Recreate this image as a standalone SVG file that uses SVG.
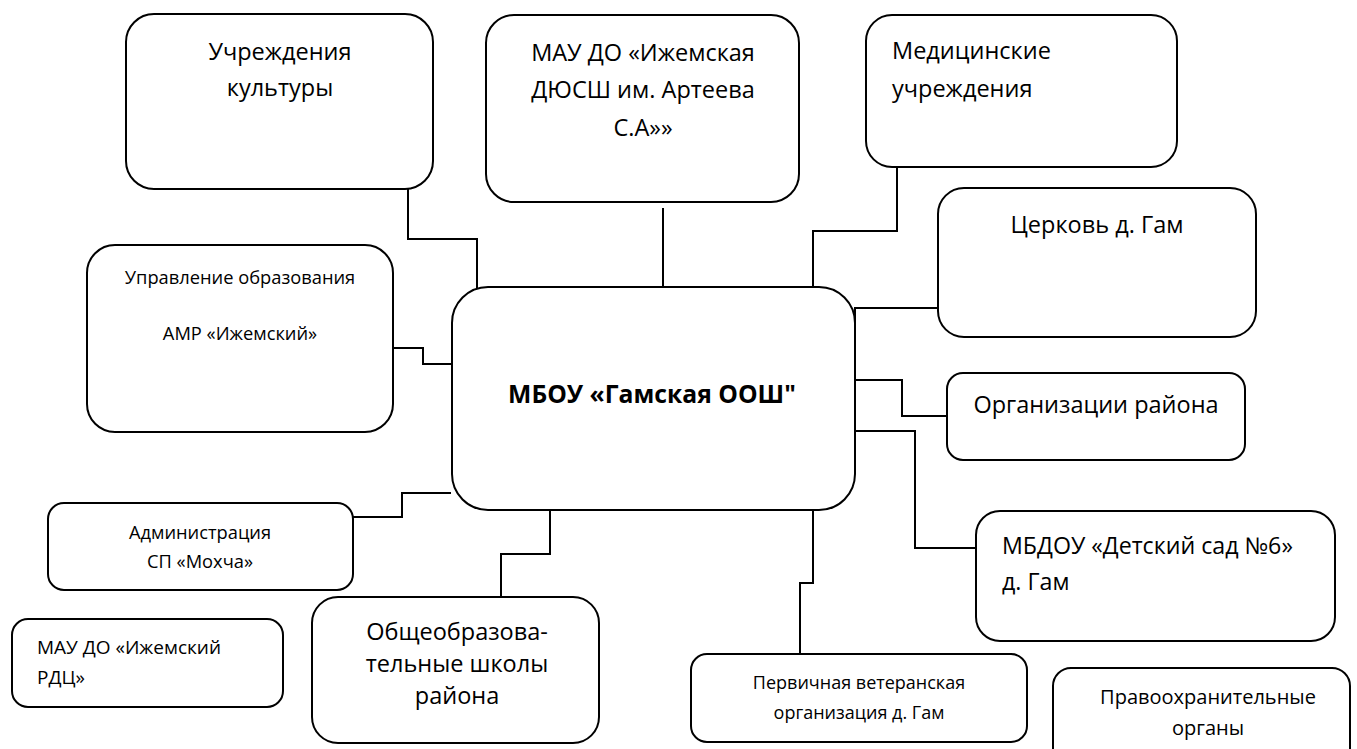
<svg xmlns="http://www.w3.org/2000/svg" width="1357" height="749" viewBox="0 0 1357 749">
<style>
.box{fill:#fff;stroke:#000;stroke-width:2}
.con{fill:none;stroke:#000;stroke-width:2}
text{font-family:"Open Sans","Noto Sans",sans-serif;fill:#000}
.c{text-anchor:middle}
.l{text-anchor:start}
.big{font-size:23.5px}
.sm{font-size:18.3px}
</style>
<rect width="1357" height="749" fill="#fff"/>
<g id="connectors">
<polyline class="con" points="408,189 408,239 477,239 477,296"/>
<polyline class="con" points="663,208 663,287"/>
<polyline class="con" points="897,167 897,231 813,231 813,294"/>
<polyline class="con" points="938,308 855,308 855,352"/>
<polyline class="con" points="393,348 423,348 423,364 452,364"/>
<polyline class="con" points="855,380 902,380 902,416 947,416"/>
<polyline class="con" points="855,431 915,431 915,548 976,548"/>
<polyline class="con" points="353,517 402,517 402,493 451,493"/>
<polyline class="con" points="550,510 550,554 501,554 501,597"/>
<polyline class="con" points="813,510 813,583 800,583 800,654"/>
</g>
<g id="n-culture">
<rect class="box" x="126" y="14" width="307" height="175" rx="28"/>
<text class="c big" x="280" y="60">Учреждения</text>
<text class="c big" x="280" y="96">культуры</text>
</g>
<g id="n-dyussh">
<rect class="box" x="486" y="15" width="313" height="187" rx="28"/>
<text class="c big" x="643" y="61">МАУ ДО «Ижемская</text>
<text class="c big" x="643" y="98">ДЮСШ им. Артеева</text>
<text class="c big" x="643" y="136">С.А»»</text>
</g>
<g id="n-medical">
<rect class="box" x="866" y="15" width="311" height="152" rx="26"/>
<text class="l big" x="892" y="59">Медицинские</text>
<text class="l big" x="892" y="97">учреждения</text>
</g>
<g id="n-church">
<rect class="box" x="938" y="188" width="318" height="149" rx="26"/>
<text class="c big" x="1097" y="233">Церковь д. Гам</text>
</g>
<g id="n-upravlenie">
<rect class="box" x="87" y="245" width="306" height="187" rx="28"/>
<text class="c sm" x="240" y="284">Управление образования</text>
<text class="c sm" x="240" y="340">АМР «Ижемский»</text>
</g>
<g id="n-main">
<rect class="box" x="452" y="287" width="403" height="223" rx="36"/>
<text class="c" x="652" y="403" style="font-size:24.7px;font-weight:bold">МБОУ «Гамская ООШ"</text>
</g>
<g id="n-org">
<rect class="box" x="947" y="373" width="298" height="87" rx="16"/>
<text class="c big" x="1096" y="413">Организации района</text>
</g>
<g id="n-admin">
<rect class="box" x="48" y="503" width="305" height="87" rx="16"/>
<text class="c sm" x="200" y="539">Администрация</text>
<text class="c sm" x="200" y="568">СП «Мохча»</text>
</g>
<g id="n-mbdou">
<rect class="box" x="976" y="511" width="359" height="130" rx="24"/>
<text class="l" x="1002" y="554" style="font-size:23.2px">МБДОУ «Детский сад №6»</text>
<text class="l" x="1002" y="590" style="font-size:23.2px">д. Гам</text>
</g>
<g id="n-rdc">
<rect class="box" x="12" y="619" width="271" height="88" rx="16"/>
<text class="l" x="37" y="654" style="font-size:19px">МАУ ДО «Ижемский</text>
<text class="l" x="37" y="684" style="font-size:19px">РДЦ»</text>
</g>
<g id="n-school">
<rect class="box" x="312" y="597" width="287" height="146" rx="26"/>
<text class="c big" x="457" y="640">Общеобразова-</text>
<text class="c big" x="457" y="672">тельные школы</text>
<text class="c big" x="457" y="704">района</text>
</g>
<g id="n-veteran">
<rect class="box" x="691" y="654" width="336" height="88" rx="16"/>
<text class="c" x="859" y="689" style="font-size:18px">Первичная ветеранская</text>
<text class="c" x="859" y="719" style="font-size:18px">организация д. Гам</text>
</g>
<g id="n-law">
<rect class="box" x="1053" y="668" width="297" height="110" rx="18"/>
<text class="c" x="1208" y="704" style="font-size:20px">Правоохранительные</text>
<text class="c" x="1208" y="735" style="font-size:20px">органы</text>
</g>
</svg>
